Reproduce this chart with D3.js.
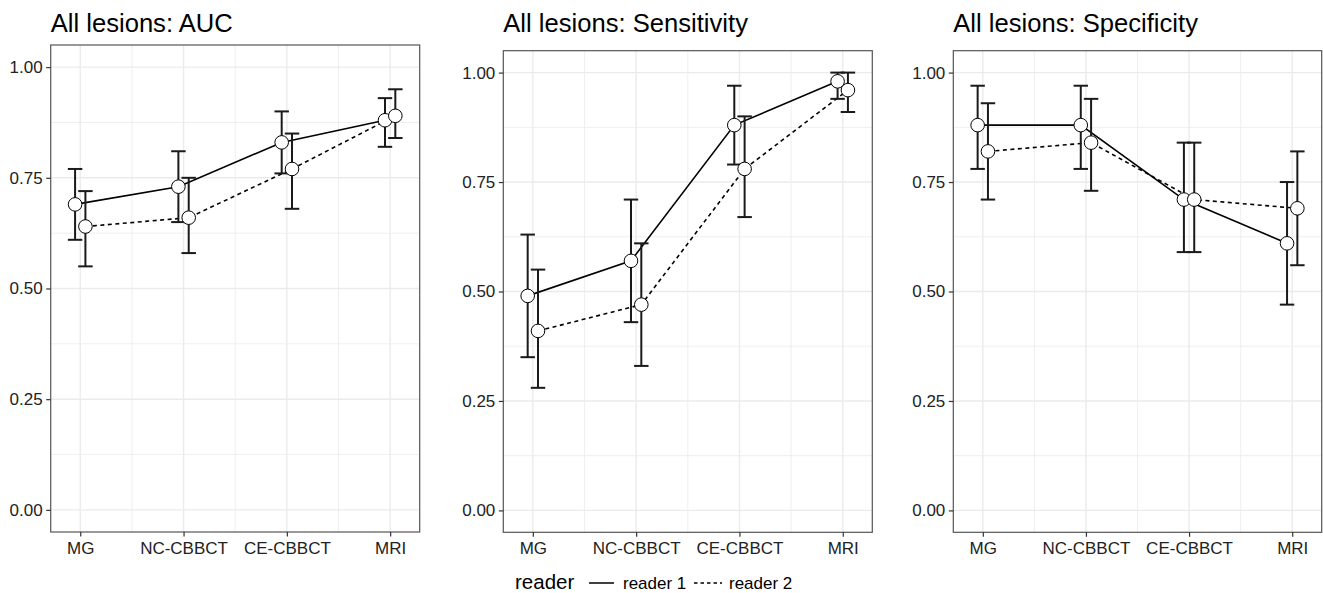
<!DOCTYPE html>
<html>
<head>
<meta charset="utf-8">
<script src="https://cdn.jsdelivr.net/npm/d3@7"></script>
<style>
  html, body { margin: 0; padding: 0; background: #fff; }
  svg { display: block; font-family: "Liberation Sans", Arial, Helvetica, sans-serif; }
</style>
</head>
<body>
<svg id="chart" width="1323" height="593"></svg>
<script>
// categories and series
const categories = ["MG", "NC-CBBCT", "CE-CBBCT", "MRI"];
const readers = ["reader 1", "reader 2"];
const panelTitles = ["All lesions: AUC", "All lesions: Sensitivity", "All lesions: Specificity"];
const yTicks = [0, 0.25, 0.5, 0.75, 1];

const aucR1 = [0.69, 0.73, 0.83, 0.88];
const aucR1Lo = [0.61, 0.65, 0.76, 0.82];
const aucR1Hi = [0.77, 0.81, 0.90, 0.93];
const aucR2 = [0.64, 0.66, 0.77, 0.89];
const aucR2Lo = [0.55, 0.58, 0.68, 0.84];
const aucR2Hi = [0.72, 0.75, 0.85, 0.95];

const sensR1 = [0.49, 0.57, 0.88, 0.98];
const sensR1Lo = [0.35, 0.43, 0.79, 0.94];
const sensR1Hi = [0.63, 0.71, 0.97, 1.00];
const sensR2 = [0.41, 0.47, 0.78, 0.96];
const sensR2Lo = [0.28, 0.33, 0.67, 0.91];
const sensR2Hi = [0.55, 0.61, 0.90, 1.00];

const specR1 = [0.88, 0.88, 0.71, 0.61];
const specR1Lo = [0.78, 0.78, 0.59, 0.47];
const specR1Hi = [0.97, 0.97, 0.84, 0.75];
const specR2 = [0.82, 0.84, 0.71, 0.69];
const specR2Lo = [0.71, 0.73, 0.59, 0.56];
const specR2Hi = [0.93, 0.94, 0.84, 0.82];

const panelSeries = [
  [[aucR1, aucR1Lo, aucR1Hi], [aucR2, aucR2Lo, aucR2Hi]],
  [[sensR1, sensR1Lo, sensR1Hi], [sensR2, sensR2Lo, sensR2Hi]],
  [[specR1, specR1Lo, specR1Hi], [specR2, specR2Lo, specR2Hi]],
];

// layout
const panels = [
  { left: 50.7, right: 419.7, top: 45, bottom: 532 },
  { left: 503.3, right: 872.3, top: 50.7, bottom: 532.3 },
  { left: 953.3, right: 1321.7, top: 50.7, bottom: 532.3 },
];
const DODGE = 0.05; // in category steps
const CAP = 0.07;
const dashes = ["none", "4,3.5"];
const GRID = "#ebebeb";
const INK = "#1a1a1a";

const svg = d3.select("#chart");

panels.forEach((p, pi) => {
  const x = d3.scalePoint().domain(categories).range([p.left, p.right]).padding(0.286);
  const y = d3.scaleLinear().domain([-0.05, 1.05]).range([p.bottom, p.top]);
  const step = x.step();
  const g = svg.append("g");

  // title
  g.append("text")
    .attr("x", p.left)
    .attr("y", 32)
    .attr("font-size", 25.6)
    .attr("fill", "#000")
    .text(panelTitles[pi]);

  // minor grid
  const minorY = yTicks.slice(1).map((t) => t - 0.125);
  g.selectAll(".minory").data(minorY).join("line")
    .attr("x1", p.left).attr("x2", p.right)
    .attr("y1", (d) => y(d)).attr("y2", (d) => y(d))
    .attr("stroke", GRID).attr("stroke-width", 0.8);
  g.selectAll(".minorx").data(categories.slice(1)).join("line")
    .attr("x1", (d) => x(d) - step / 2).attr("x2", (d) => x(d) - step / 2)
    .attr("y1", p.top).attr("y2", p.bottom)
    .attr("stroke", GRID).attr("stroke-width", 0.8);

  // major grid
  g.selectAll(".majory").data(yTicks).join("line")
    .attr("x1", p.left).attr("x2", p.right)
    .attr("y1", (d) => y(d)).attr("y2", (d) => y(d))
    .attr("stroke", GRID).attr("stroke-width", 1.4);
  g.selectAll(".majorx").data(categories).join("line")
    .attr("x1", (d) => x(d)).attr("x2", (d) => x(d))
    .attr("y1", p.top).attr("y2", p.bottom)
    .attr("stroke", GRID).attr("stroke-width", 1.4);

  const series = panelSeries[pi];
  const xr = (ci, ri) => x(categories[ci]) + (ri === 0 ? -DODGE : DODGE) * step;

  // connecting lines
  series.forEach((s, ri) => {
    const line = d3.line()
      .x((d, i) => xr(i, ri))
      .y((d) => y(d));
    g.append("path")
      .datum(s[0])
      .attr("d", line)
      .attr("fill", "none")
      .attr("stroke", "#000")
      .attr("stroke-width", 1.6)
      .attr("stroke-dasharray", dashes[ri]);
  });

  // error bars
  series.forEach((s, ri) => {
    const eb = g.append("g").attr("stroke", INK).attr("stroke-width", 2).attr("fill", "none");
    categories.forEach((c, ci) => {
      const cx = xr(ci, ri);
      eb.append("line").attr("x1", cx).attr("x2", cx).attr("y1", y(s[1][ci])).attr("y2", y(s[2][ci]));
      [s[1][ci], s[2][ci]].forEach((v) => {
        eb.append("line")
          .attr("x1", cx - CAP * step).attr("x2", cx + CAP * step)
          .attr("y1", y(v)).attr("y2", y(v));
      });
    });
  });

  // points
  series.forEach((s, ri) => {
    g.selectAll(null).data(s[0]).join("circle")
      .attr("cx", (d, i) => xr(i, ri))
      .attr("cy", (d) => y(d))
      .attr("r", 6.8)
      .attr("fill", "#fff")
      .attr("stroke", "#000")
      .attr("stroke-width", 1);
  });

  // panel border
  g.append("rect")
    .attr("x", p.left).attr("y", p.top)
    .attr("width", p.right - p.left).attr("height", p.bottom - p.top)
    .attr("fill", "none").attr("stroke", "#555").attr("stroke-width", 1.2);

  // axes
  const yAxis = g.append("g")
    .attr("transform", `translate(${p.left},0)`)
    .call(d3.axisLeft(y).tickValues(yTicks).tickFormat(d3.format(".2f")).tickSize(4.5).tickPadding(3.5));
  const xAxis = g.append("g")
    .attr("transform", `translate(0,${p.bottom})`)
    .call(d3.axisBottom(x).tickSize(4.5).tickPadding(5));
  [yAxis, xAxis].forEach((ax) => {
    ax.select(".domain").remove();
    ax.selectAll(".tick line").attr("stroke", "#333").attr("stroke-width", 1.2);
    ax.selectAll(".tick text")
      .attr("fill", "#222")
      .attr("font-size", 17)
      .attr("font-family", "'Liberation Sans', Arial, Helvetica, sans-serif");
  });
});

// legend
const legend = svg.append("g");
legend.append("text")
  .attr("x", 515).attr("y", 589)
  .attr("font-size", 20.5).attr("fill", "#000")
  .text("reader");
const legendKeys = [
  { x1: 589, x2: 614, tx: 623 },
  { x1: 694, x2: 722, tx: 729 },
];
readers.forEach((r, ri) => {
  const k = legendKeys[ri];
  legend.append("line")
    .attr("x1", k.x1).attr("x2", k.x2)
    .attr("y1", 583).attr("y2", 583)
    .attr("stroke", "#000").attr("stroke-width", 1.5)
    .attr("stroke-dasharray", ri === 0 ? null : "3.5,3");
  legend.append("text")
    .attr("x", k.tx).attr("y", 589)
    .attr("font-size", 17).attr("fill", "#000")
    .text(r);
});
</script>
</body>
</html>
